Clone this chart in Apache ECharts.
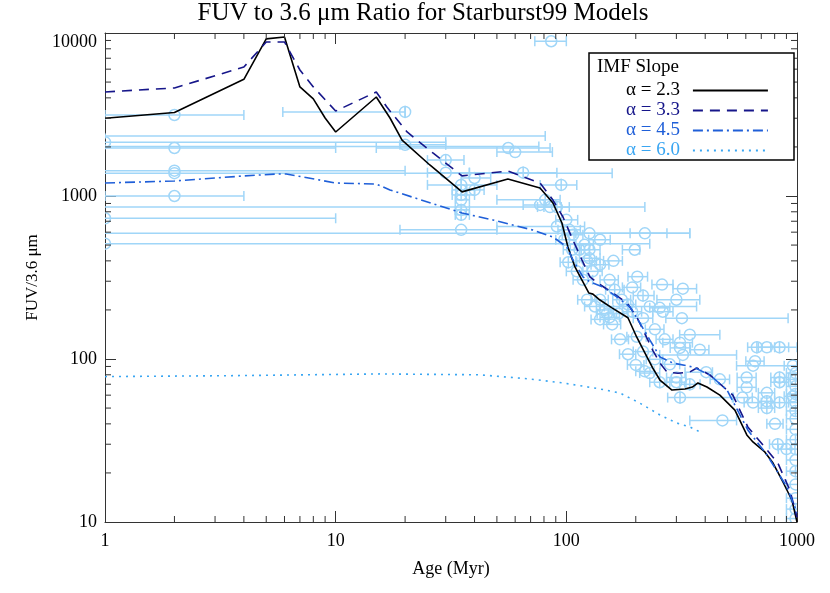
<!DOCTYPE html>
<html>
<head>
<meta charset="utf-8">
<script src="https://cdn.jsdelivr.net/npm/echarts@6/dist/echarts.min.js"></script>
<style>
  html, body { margin: 0; padding: 0; background: #fff; }
  #chart { width: 830px; height: 593px; }
</style>
</head>
<body>
<div id="chart"></div>
<script>
// Starburst99 model tracks: [age (Myr), FUV/3.6um]
var model23 = [[1,3000],[2,3250],[4,5200],[5,9200],[6,9450],[7,4670],[8,3940],[9,3010],[10,2470],[15,4050],[17.2,3010],[19.4,2200],[25.6,1550],[35.3,1060],[55.8,1270],[76.9,1120],[87.5,906],[95.7,683],[101.6,487],[109,367],[116.9,305],[125.3,254],[130.4,250],[139.9,230],[157.7,206],[185,179],[202,136],[219,109],[237,88],[254.6,74.3],[287,64.5],[327,65.5],[352,67.3],[372,71.3],[407,67.3],[463,60],[538,48.6],[606,34.2],[644,31],[725,26.9],[787,23],[869,17.6],[951,13.6],[1000,10]];
var model33 = [[1,4350],[2,4600],[4,6180],[5,8810],[6,8810],[7,5930],[8,4670],[10,3320],[15,4350],[16.7,3500],[20.4,2470],[26.4,1836],[35.3,1328],[55.8,1423],[76.9,1202],[87.5,944],[96.7,743],[106.8,537],[116.9,405],[126.5,319],[137,292],[159,254],[183,221],[202,181],[215,151],[237,113],[254.6,94.4],[273,83.2],[305,81.8],[343,83.2],[368,88],[419,79.8],[527,60],[612,38.3],[741,27.7],[826,23],[931,15.7],[1000,10.7]];
var model45 = [[1,1202],[2,1236],[4,1328],[5.6,1365],[6.1,1365],[10,1202],[15,1184],[17.2,1089],[35.3,787],[48,713],[71.6,618],[87.5,560],[100.6,487],[106.8,405],[118,319],[126.5,297],[144,277],[166,240],[189,208],[208,167],[230,131],[254.6,103],[290,94.4],[354,89.3],[419,79.8],[497,64.6],[612,36.7],[741,25.8],[904,16.4],[1000,11.4]];
var model60 = [[1,78],[3.5,79],[15.6,81],[42,80],[69.5,75.4],[96.7,71.3],[140,65.5],[171,61.8],[208,53.7],[255,45.3],[301,40.5],[343,38.3],[387,35.2]];
var modelNames = ['α = 2.3', 'α = 3.3', 'α = 4.5', 'α = 6.0'];

// observed clusters: age, ratio, age range, fractional ratio error
var obsAge = [86,2,20,1,0.95,0.95,2,56,60,20,30,2,2,30,65,35,35,35,35,40,40,2,0.9,81,77,85,91,1,35,35,35,0.9,1,91,95,100,103,107,126,219,114,126,126,123,130,111,118,198,203,260,320,193,215,300,123,133,230,254,168,154,193,262,317,215,150,202,311,311,215,320,230,300,404,254,300,311,670,740,840,658,645,605,840,960,605,740,840,580,740,960,645,840,740,475,803,825,900,985,985,985,985,985,985,985,985,985,985,985,985,985,985,985,985,140,160,140,147,158,171,185,200,219,98,106,102,120,140,154,162,174,185,140,242,267,343,379,242,281,343,463];
var obsRatio = [8900,3140,3280,2140,2330,2010,1970,1970,1860,2060,1660,1430,1380,1390,1390,1170,1090,1015,947,1290,1090,1000,855,947,882,855,855,730,822,766,620,590,510,650,1170,714,620,578,590,590,468,468,415,400,345,345,306,468,320,286,270,275,245,231,231,210,210,206,190,180,195,195,178,178,190,137,126,117,111,106,82,77,83,72,72,58,118,118,118,97,91,77,77,91,67,62,72,58,55,59,54,54,50,42,40,30,28,82,75,68,61,54,48,43,37,32,28,24,20.5,17,14,12,10.5,539,400,231,200,163,132,107,92,84,539,468,392,502,379,306,266,231,216,175,152,132,141,114,99.5,92.7,69.9,75];
var obsAgeLo = [73,1,5.9,0.25,0.1,0.1,0.4,15,50,19,25,0.2,0.1,25,38,25,32,32,33,35,37,1,0.1,50,65,75,80,0.2,33,33,19,0.1,0.1,50,77,90,92,96,110,189,104,114,114,110,118,100,107,175,185,235,290,175,195,247,112,120,140,230,152,140,175,237,270,195,136,183,262,282,195,254,208,272,327,230,272,275,611,680,770,600,547,550,770,880,550,680,770,530,680,880,590,770,680,343,740,760,830,900,900,900,900,900,900,900,900,900,900,900,900,900,900,900,900,125,145,128,135,145,157,170,184,200,90,97,94,110,128,140,148,159,170,128,220,245,310,345,222,255,310,420];
var obsAgeHi = [100,4,20,30,81,76,10,85,87,30,36,20,158,38,91,50,40,40,38,47,44,4,219,94,90,95,103,10,38,38,50,343,230,120,111,112,115,118,343,273,126,140,140,135,143,123,130,208,225,290,367,210,240,379,135,146,367,281,185,170,212,290,915,237,165,222,352,343,237,547,254,330,430,281,330,525,1000,800,920,720,1000,665,920,1000,665,800,920,640,800,1000,700,920,800,547,870,900,980,1080,1080,1080,1080,1080,1080,1080,1080,1080,1080,1080,1080,1080,1080,1080,1080,155,175,152,160,172,186,200,217,240,108,116,111,131,153,168,178,190,200,153,265,290,463,415,262,310,380,510];
var obsRatioErr = [0,0,0.09,0,0,0,0,0,0,0,0.09,0,0,0,0.09,0.09,0.09,0.09,0,0,0,0,0,0.09,0,0,0.09,0,0.09,0.09,0,0,0,0,0.09,0,0,0,0,0,0.09,0.09,0.09,0,0,0,0,0,0,0,0,0,0.09,0,0,0,0,0,0,0,0.09,0,0,0,0,0,0,0,0,0,0,0,0,0.09,0,0.09,0.09,0,0.09,0,0,0,0.09,0,0,0,0.09,0,0.09,0,0,0.09,0.09,0,0,0.09,0,0,0.09,0,0.09,0,0.09,0,0,0.09,0,0,0.09,0,0,0.09,0,0,0,0,0,0,0,0,0,0,0,0,0.09,0,0.09,0,0.09,0,0.09,0,0,0,0,0,0,0,0.09,0,0,0];

var xTicks = [1, 10, 100, 1000];
var yTicks = [10, 100, 1000, 10000];
var xMinor = [2,3,4,5,6,7,8,9,20,30,40,50,60,70,80,90,200,300,400,500,600,700,800,900];
var yMinor = [20,30,40,50,60,70,80,90,200,300,400,500,600,700,800,900,2000,3000,4000,5000,6000,7000,8000,9000];

var FONT = '"Liberation Serif", "DejaVu Serif", serif';
var AXIS = '#333';
var OBS = '#a0d6f8';
var colors = ['#000000', '#16168a', '#1f5fd8', '#3aa6f2'];
var dashes = ['solid', [10, 7], [10, 4, 2, 4], [2, 5]];

var obsData = obsAge.map(function (a, i) {
  return [a, obsRatio[i], obsAgeLo[i], obsAgeHi[i], obsRatioErr[i]];
});

function renderObs(params, api) {
  var x = api.value(0), y = api.value(1);
  var c = api.coord([x, y]);
  var a = api.coord([api.value(2), y]);
  var b = api.coord([api.value(3), y]);
  var st = { stroke: OBS, lineWidth: 1.5, fill: null };
  var kids = [
    { type: 'line', shape: { x1: a[0], y1: c[1], x2: b[0], y2: c[1] }, style: st },
    { type: 'line', shape: { x1: a[0], y1: c[1] - 5, x2: a[0], y2: c[1] + 5 }, style: st },
    { type: 'line', shape: { x1: b[0], y1: c[1] - 5, x2: b[0], y2: c[1] + 5 }, style: st },
    { type: 'circle', shape: { cx: c[0], cy: c[1], r: 5.5 }, style: { stroke: OBS, lineWidth: 1.5, fill: 'none' } }
  ];
  var e = api.value(4);
  if (e > 0) {
    var t = api.coord([x, y * (1 + e)]), u = api.coord([x, y / (1 + e)]);
    kids.push({ type: 'line', shape: { x1: c[0], y1: t[1], x2: c[0], y2: u[1] }, style: st });
  }
  return { type: 'group', children: kids };
}

// minor ticks on all four sides
function renderXMinor(params, api) {
  var p0 = api.coord([api.value(0), yTicks[0]]);
  var p1 = api.coord([api.value(0), yTicks[yTicks.length - 1]]);
  var st = { stroke: AXIS, lineWidth: 1 };
  return { type: 'group', children: [
    { type: 'line', shape: { x1: p0[0], y1: p0[1], x2: p0[0], y2: p0[1] - 6 }, style: st },
    { type: 'line', shape: { x1: p1[0], y1: p1[1], x2: p1[0], y2: p1[1] + 6 }, style: st }
  ] };
}
function renderYMinor(params, api) {
  var p0 = api.coord([xTicks[0], api.value(1)]);
  var p1 = api.coord([xTicks[xTicks.length - 1], api.value(1)]);
  var st = { stroke: AXIS, lineWidth: 1 };
  return { type: 'group', children: [
    { type: 'line', shape: { x1: p0[0], y1: p0[1], x2: p0[0] + 6, y2: p0[1] }, style: st },
    { type: 'line', shape: { x1: p1[0], y1: p1[1], x2: p1[0] - 6, y2: p1[1] }, style: st }
  ] };
}

var chart = echarts.init(document.getElementById('chart'), null, { renderer: 'canvas' });

function baseAxis(extra) {
  var ax = {
    type: 'log',
    logBase: 10,
    axisLine: { show: true, onZero: false, lineStyle: { color: AXIS, width: 1 } },
    axisTick: { show: true, inside: true, length: 11, lineStyle: { color: AXIS, width: 1 } },
    splitLine: { show: false },
    axisLabel: { show: false }
  };
  return Object.assign(ax, extra);
}

var models = [model23, model33, model45, model60];

chart.setOption({
  animation: false,
  backgroundColor: '#fff',
  title: {
    text: 'FUV to 3.6 μm Ratio for Starburst99 Models',
    left: 423, top: 1, padding: 0, textAlign: 'center',
    textStyle: { fontFamily: FONT, fontSize: 25, fontWeight: 'normal', color: '#000' }
  },
  grid: { left: 105, right: 33, top: 33, bottom: 71 },
  xAxis: [
    baseAxis({
      min: 1, max: 1000, position: 'bottom',
      name: 'Age (Myr)', nameLocation: 'middle', nameGap: 38,
      nameTextStyle: { fontFamily: FONT, fontSize: 18, color: '#000' },
      axisLabel: { show: true, margin: 10, fontFamily: FONT, fontSize: 18, color: '#000',
        formatter: function (v) { return String(Math.round(v)); } }
    }),
    baseAxis({ min: 1, max: 1000, position: 'top' })
  ],
  yAxis: [
    baseAxis({
      min: 10, max: 10000, position: 'left',
      name: 'FUV/3.6 μm', nameLocation: 'middle', nameGap: 63, nameRotate: 90,
      nameTextStyle: { fontFamily: FONT, fontSize: 17, color: '#000' },
      axisLabel: { show: true, margin: 8, fontFamily: FONT, fontSize: 18, color: '#000',
        verticalAlignMaxLabel: 'top',
        formatter: function (v) { return String(Math.round(v)); } }
    }),
    baseAxis({ min: 10, max: 10000, position: 'right' })
  ],
  legend: {
    orient: 'vertical', left: 621, top: 76, align: 'right',
    itemWidth: 75, itemHeight: 14, itemGap: 1, selectedMode: false,
    itemStyle: { opacity: 0 },
    textStyle: { fontFamily: FONT, fontSize: 19, padding: [0, 8, 0, 0] },
    data: modelNames.map(function (n, i) { return { name: n, textStyle: { color: colors[i] } }; }),
    z: 10
  },
  graphic: [
    { type: 'rect', z: 5, shape: { x: 589, y: 53, width: 205, height: 107 },
      style: { fill: '#fff', stroke: '#000', lineWidth: 1.5 } },
    { type: 'text', z: 6, x: 597, y: 67,
      style: { text: 'IMF Slope', font: '19px ' + FONT, fill: '#000', verticalAlign: 'middle' } }
  ],
  series: [
    { type: 'custom', name: 'obs', renderItem: renderObs, data: obsData, clip: true,
      encode: { x: 0, y: 1 }, z: 1, silent: true },
    { type: 'custom', name: 'xminor', renderItem: renderXMinor,
      data: xMinor.map(function (v) { return [v, yTicks[0]]; }), encode: { x: 0, y: 1 }, z: 4, silent: true },
    { type: 'custom', name: 'yminor', renderItem: renderYMinor,
      data: yMinor.map(function (v) { return [xTicks[0], v]; }), encode: { x: 0, y: 1 }, z: 4, silent: true }
  ].concat(models.map(function (m, i) {
    return {
      type: 'line', name: modelNames[i], data: m, symbol: 'none', showSymbol: false,
      lineStyle: { color: colors[i], width: 1.6, type: dashes[i] },
      itemStyle: { color: colors[i] },
      z: 3, silent: true
    };
  }))
});
</script>
</body>
</html>
